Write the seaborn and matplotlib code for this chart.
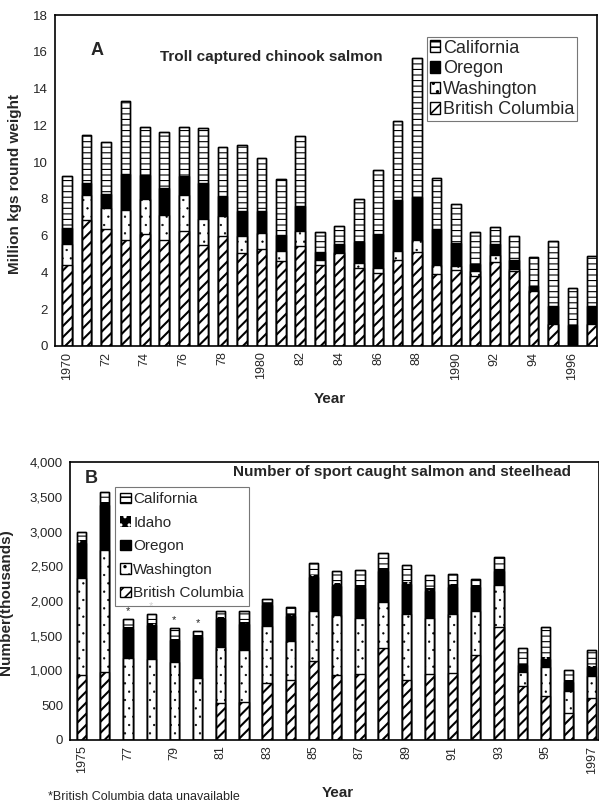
import numpy as np
import pandas as pd
import matplotlib
matplotlib.use("Agg")
import matplotlib.pyplot as plt
import matplotlib.patches as mpatches
import seaborn as sns

# ---------------- data ----------------
years_a = list(range(1970, 1998))
bc_a = [4.39, 6.87, 6.35, 5.75, 6.08, 5.75, 6.24, 5.48, 6.00, 5.06, 5.28, 4.61, 5.46, 4.38,
        5.06, 4.25, 3.98, 4.70, 5.10, 3.89, 4.12, 3.80, 4.58, 4.07, 2.98, 1.18, 0.00, 1.21]
wa_a = [1.13, 1.36, 1.15, 1.66, 1.93, 1.39, 1.99, 1.45, 1.05, 0.91, 0.87, 0.54, 0.81, 0.32,
        0.05, 0.27, 0.27, 0.49, 0.68, 0.49, 0.22, 0.27, 0.39, 0.14, 0.07, 0.00, 0.00, 0.00]
or_a = [0.92, 0.65, 0.78, 1.96, 1.27, 1.45, 1.01, 1.93, 1.12, 1.39, 1.21, 0.91, 1.33, 0.42,
        0.41, 1.14, 1.86, 2.77, 2.32, 1.99, 1.27, 0.41, 0.58, 0.46, 0.20, 1.02, 1.14, 0.96]
ca_a = [2.78, 2.57, 2.84, 3.96, 2.65, 3.04, 2.68, 2.98, 2.64, 3.58, 2.86, 3.04, 3.83, 1.08,
        1.03, 2.33, 3.44, 4.30, 7.58, 2.76, 2.13, 1.72, 0.91, 1.30, 1.58, 3.53, 2.02, 2.71]
ticklabels_a = ["1970", "72", "74", "76", "78", "1980", "82", "84", "86", "88",
                "1990", "92", "94", "1996"]

years_b = list(range(1975, 1998))
bc_b = [936, 980, 0, 0, 0, 0, 530, 550, 820, 860, 1130, 940, 950, 1320, 870, 950, 960,
        1220, 1630, 770, 630, 390, 600]
wa_b = [1394, 1750, 1180, 1170, 1120, 890, 815, 750, 820, 570, 730, 860, 800, 670, 940,
        800, 860, 630, 600, 210, 420, 320, 320]
or_b = [510, 650, 420, 480, 315, 595, 395, 370, 300, 360, 480, 420, 440, 440, 430, 395,
        385, 350, 200, 95, 120, 125, 130]
id_b = [40, 50, 30, 30, 25, 25, 30, 30, 30, 30, 40, 40, 40, 40, 40, 35, 35, 30, 30, 15,
        20, 15, 20]
ca_b = [120, 140, 110, 130, 150, 65, 90, 160, 60, 90, 165, 165, 220, 220, 240, 190, 150,
        80, 170, 240, 430, 160, 230]
ticklabels_b = ["1975", "77", "79", "81", "83", "85", "87", "89", "91", "93", "95", "1997"]
bc_missing_b = [1977, 1978, 1979, 1980]

# ---------------- style ----------------
sns.set_theme(style="white")
plt.rcParams["font.family"] = ["Liberation Sans", "DejaVu Sans"]
plt.rcParams["hatch.linewidth"] = 1.2

fig = plt.figure(figsize=(5.99, 8.02), dpi=100)
axA = fig.add_axes([55 / 599, 1 - 346 / 802, 542 / 599, 331 / 802])
axB = fig.add_axes([70 / 599, 1 - 740 / 802, 528.5 / 599, 278 / 802])

STY = {
    "California": dict(face="white", hatch="---", hcol="black", hlw=0.8),
    "Idaho": dict(face="black", hatch="..", hcol="white", hlw=0.5),
    "Oregon": dict(face="black", hatch=None, hcol="black", hlw=1.0),
    "Washington": dict(face="white", hatch="..", hcol="black", hlw=0.4),
    "British Columbia": dict(face="white", hatch="///", hcol="black", hlw=1.5),
}


def set_hlw(patches, lw):
    for p in patches:
        if hasattr(p, "set_hatch_linewidth"):
            p.set_hatch_linewidth(lw)


def stacked(ax, years, layers, width):
    """layers: list of (name, values) from bottom to top"""
    df = pd.DataFrame({"year": [str(y) for y in years]})
    cum = np.cumsum([np.asarray(v, float) for _, v in layers], axis=0)
    for i in range(len(layers) - 1, -1, -1):
        name = layers[i][0]
        s = STY[name]
        df["v"] = cum[i]
        kw = dict(edgecolor=s["hcol"], linewidth=0 if s["hcol"] == "white" else 1.0)
        if s["hatch"]:
            kw["hatch"] = s["hatch"]
        n0 = len(ax.patches)
        with plt.rc_context({"hatch.linewidth": s["hlw"]}):
            sns.barplot(data=df, x="year", y="v", color=s["face"], saturation=1,
                        width=width, ax=ax, errorbar=None, **kw)
        set_hlw(ax.patches[n0:], s["hlw"])
    df["v"] = cum[-1]
    sns.barplot(data=df, x="year", y="v", color="black", fill=False, width=width,
                ax=ax, errorbar=None, linewidth=1.0)
    return cum[-1]


def legend_handles(names):
    hs = []
    for n in names:
        s = STY[n]
        with plt.rc_context({"hatch.linewidth": s["hlw"]}):
            p = mpatches.Patch(facecolor=s["face"], edgecolor=s["hcol"],
                               hatch=s["hatch"],
                               linewidth=0 if s["hcol"] == "white" else 1.0,
                               label=n)
        set_hlw([p], s["hlw"])
        hs.append(p)
    return hs


# ---------------- Panel A ----------------
stacked(axA, years_a, [("British Columbia", bc_a), ("Washington", wa_a),
                       ("Oregon", or_a), ("California", ca_a)], 0.5)
axA.set_xlim(-0.62, 27.26)
axA.set_ylim(0, 18)
axA.set_yticks(np.arange(0, 19, 2))
axA.set_xticks(range(0, len(years_a), 2))
axA.set_xticklabels(ticklabels_a, rotation=90, fontsize=9)
axA.tick_params(axis="y", labelsize=9.5, length=0, pad=5)
axA.tick_params(axis="x", length=0, pad=4)
axA.set_ylabel("Million kgs round weight", fontsize=11, fontweight="bold")
axA.yaxis.set_label_coords(-0.061, 0.49)
axA.set_xlabel("Year", fontsize=11, fontweight="bold")
axA.xaxis.set_label_coords(0.507, -0.139)
axA.text(0.065, 0.894, "A", transform=axA.transAxes, fontsize=13,
         fontweight="bold", va="center", ha="left")
axA.text(0.194, 0.873, "Troll captured chinook salmon", transform=axA.transAxes,
         fontsize=11, fontweight="bold", va="center", ha="left")
legA = axA.legend(handles=legend_handles(["California", "Oregon", "Washington",
                                          "British Columbia"]),
                  loc="upper left", bbox_to_anchor=(0.686, 0.934), fontsize=13,
                  frameon=True, fancybox=False, borderaxespad=0, borderpad=0.15,
                  handlelength=0.6, handleheight=0.6, handletextpad=0.15,
                  labelspacing=0.2)
legA.get_frame().set_edgecolor("#555555")
legA.get_frame().set_linewidth(0.8)

# ---------------- Panel B ----------------
tot_b = stacked(axB, years_b, [("British Columbia", bc_b), ("Washington", wa_b),
                               ("Oregon", or_b), ("Idaho", id_b),
                               ("California", ca_b)], 0.4)
axB.set_xlim(-0.5, 22.29)
axB.set_ylim(0, 4000)
axB.set_yticks(np.arange(0, 4001, 500))
axB.set_yticklabels([f"{v:,}" for v in range(0, 4001, 500)])
axB.set_xticks(range(0, len(years_b), 2))
axB.set_xticklabels(ticklabels_b, rotation=90, fontsize=9)
axB.tick_params(axis="y", labelsize=9.5, length=0, pad=5)
axB.tick_params(axis="x", length=0, pad=4)
axB.set_ylabel("Number(thousands)", fontsize=11, fontweight="bold")
axB.yaxis.set_label_coords(-0.108, 0.496)
axB.set_xlabel("Year", fontsize=11, fontweight="bold")
axB.xaxis.set_label_coords(0.507, -0.165)
axB.text(0.028, 0.94, "B", transform=axB.transAxes, fontsize=13,
         fontweight="bold", va="center", ha="left")
axB.text(0.628, 0.964, "Number of sport caught salmon and steelhead",
         transform=axB.transAxes, fontsize=11, fontweight="bold", va="center",
         ha="center")
for yr in bc_missing_b:
    i = years_b.index(yr)
    axB.annotate("*", xy=(i, tot_b[i]), xytext=(0, 2), textcoords="offset points",
                 ha="center", va="bottom", fontsize=8)
legB = axB.legend(handles=legend_handles(["California", "Idaho", "Oregon",
                                          "Washington", "British Columbia"]),
                  loc="upper left", bbox_to_anchor=(0.085, 0.91), fontsize=11,
                  frameon=True, fancybox=False, borderaxespad=0, borderpad=0.35,
                  handlelength=0.7, handleheight=0.7, handletextpad=0.15,
                  labelspacing=0.62)
legB.get_frame().set_edgecolor("#555555")
legB.get_frame().set_linewidth(0.8)
legB.set_zorder(10)

for ax in (axA, axB):
    for sp in ax.spines.values():
        sp.set_visible(True)
        sp.set_color("black")
        sp.set_linewidth(1.2)

fig.text(48 / 599, 1 - 797 / 802, "*British Columbia data unavailable",
         fontsize=9, va="center", ha="left")

fig.savefig("out.png", dpi=100, facecolor="white")
